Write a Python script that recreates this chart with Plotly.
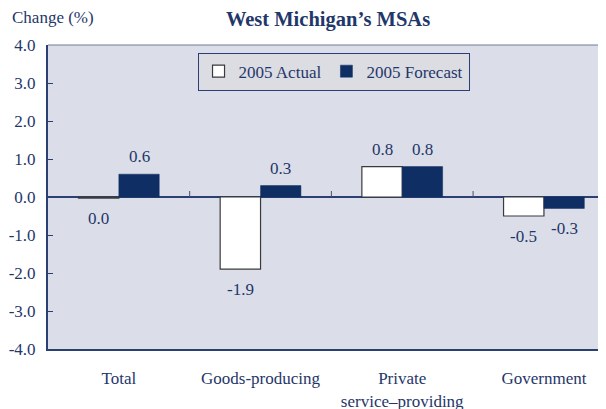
import plotly.graph_objects as go

categories = ["Total", "Goods-producing", "Private<br>service–providing", "Government"]
actual_2005 = [-0.03, -1.9, 0.8, -0.5]
forecast_2005 = [0.6, 0.3, 0.8, -0.3]
y_ticks = [4, 3, 2, 1, 0, -1, -2, -3, -4]
y_tick_labels = [f"{v:.1f}" for v in y_ticks]

NAVY = "#0f2e63"
TEXT = "#1f3769"
BG = "#dbdee8"
FONT = "Liberation Serif"
BARGAP = 0.43

# the page body adds an 8px margin; the figure is sized so that the visible area is 606x409
W, H = 598, 401

def lab(v):
    return f"{round(v, 1) + 0:.1f}"

fig = go.Figure()
fig.add_trace(go.Bar(
    x=categories, y=actual_2005, name="2005 Actual",
    marker=dict(color="white", line=dict(color="#3a3a3a", width=1.2)),
))
fig.add_trace(go.Bar(
    x=categories, y=forecast_2005, name="2005 Forecast",
    marker=dict(color=NAVY, line=dict(color=NAVY, width=0.5)),
))

off = (1 - BARGAP) / 4
annotations = []
for i, (a, f) in enumerate(zip(actual_2005, forecast_2005)):
    for v, dx in ((a, -off), (f, off)):
        annotations.append(dict(
            x=i + dx, y=v, xref="x", yref="y", text=lab(v), showarrow=False,
            yanchor="bottom" if v >= 0 else "top",
            yshift=6 if v >= 0 else -9,
            font=dict(family=FONT, size=17, color=TEXT),
        ))
annotations.append(dict(
    x=-0.068, y=1.092, xref="paper", yref="paper", text="Change (%)",
    showarrow=False, xanchor="left", yanchor="middle",
    font=dict(family=FONT, size=17, color=TEXT),
))

shapes = []
for i in range(len(categories) - 1):
    shapes.append(dict(type="line", xref="x", yref="y", x0=i + 0.5, x1=i + 0.5,
                       ysizemode="pixel", yanchor=0, y0=0, y1=6,
                       line=dict(color="#40507a", width=1)))
shapes.append(dict(type="line", xref="paper", yref="paper", x0=0, x1=1, y0=1, y1=1,
                   line=dict(color="#6d7a9c", width=1)))

fig.update_layout(
    width=W, height=H,
    margin=dict(l=40, r=0, t=37, b=60),
    paper_bgcolor="white", plot_bgcolor=BG,
    barmode="group", bargap=BARGAP, bargroupgap=0,
    title=dict(text="<b>West Michigan’s MSAs</b>", x=320 / W, xanchor="center",
               y=1 - 11 / H, yanchor="middle",
               font=dict(family=FONT, size=20.5, color=TEXT)),
    legend=dict(orientation="h", x=0.5117, xanchor="center", y=0.975, yanchor="top",
                bgcolor="#dcdce3", bordercolor="#2b3f72", borderwidth=1,
                font=dict(family=FONT, size=17, color=TEXT),
                itemclick=False),
    annotations=annotations,
    shapes=shapes,
    xaxis=dict(range=[-0.5, 3.438], showline=True, linecolor="#2b3f72", linewidth=2,
               ticks="", showgrid=False, zeroline=False, automargin=False,
               tickfont=dict(family=FONT, size=17, color=TEXT),
               ticklabelstandoff=13),
    yaxis=dict(range=[-4, 4], tickvals=y_ticks, ticktext=y_tick_labels,
               showline=True, linecolor="#2b3f72", linewidth=2, automargin=False,
               ticks="inside", ticklen=5, tickcolor="#2b3f72",
               showgrid=False, zeroline=True, zerolinecolor="#2b3f72", zerolinewidth=1.5,
               tickfont=dict(family=FONT, size=17, color=TEXT),
               ticklabelstandoff=7),
)

fig.write_html("out.html")
